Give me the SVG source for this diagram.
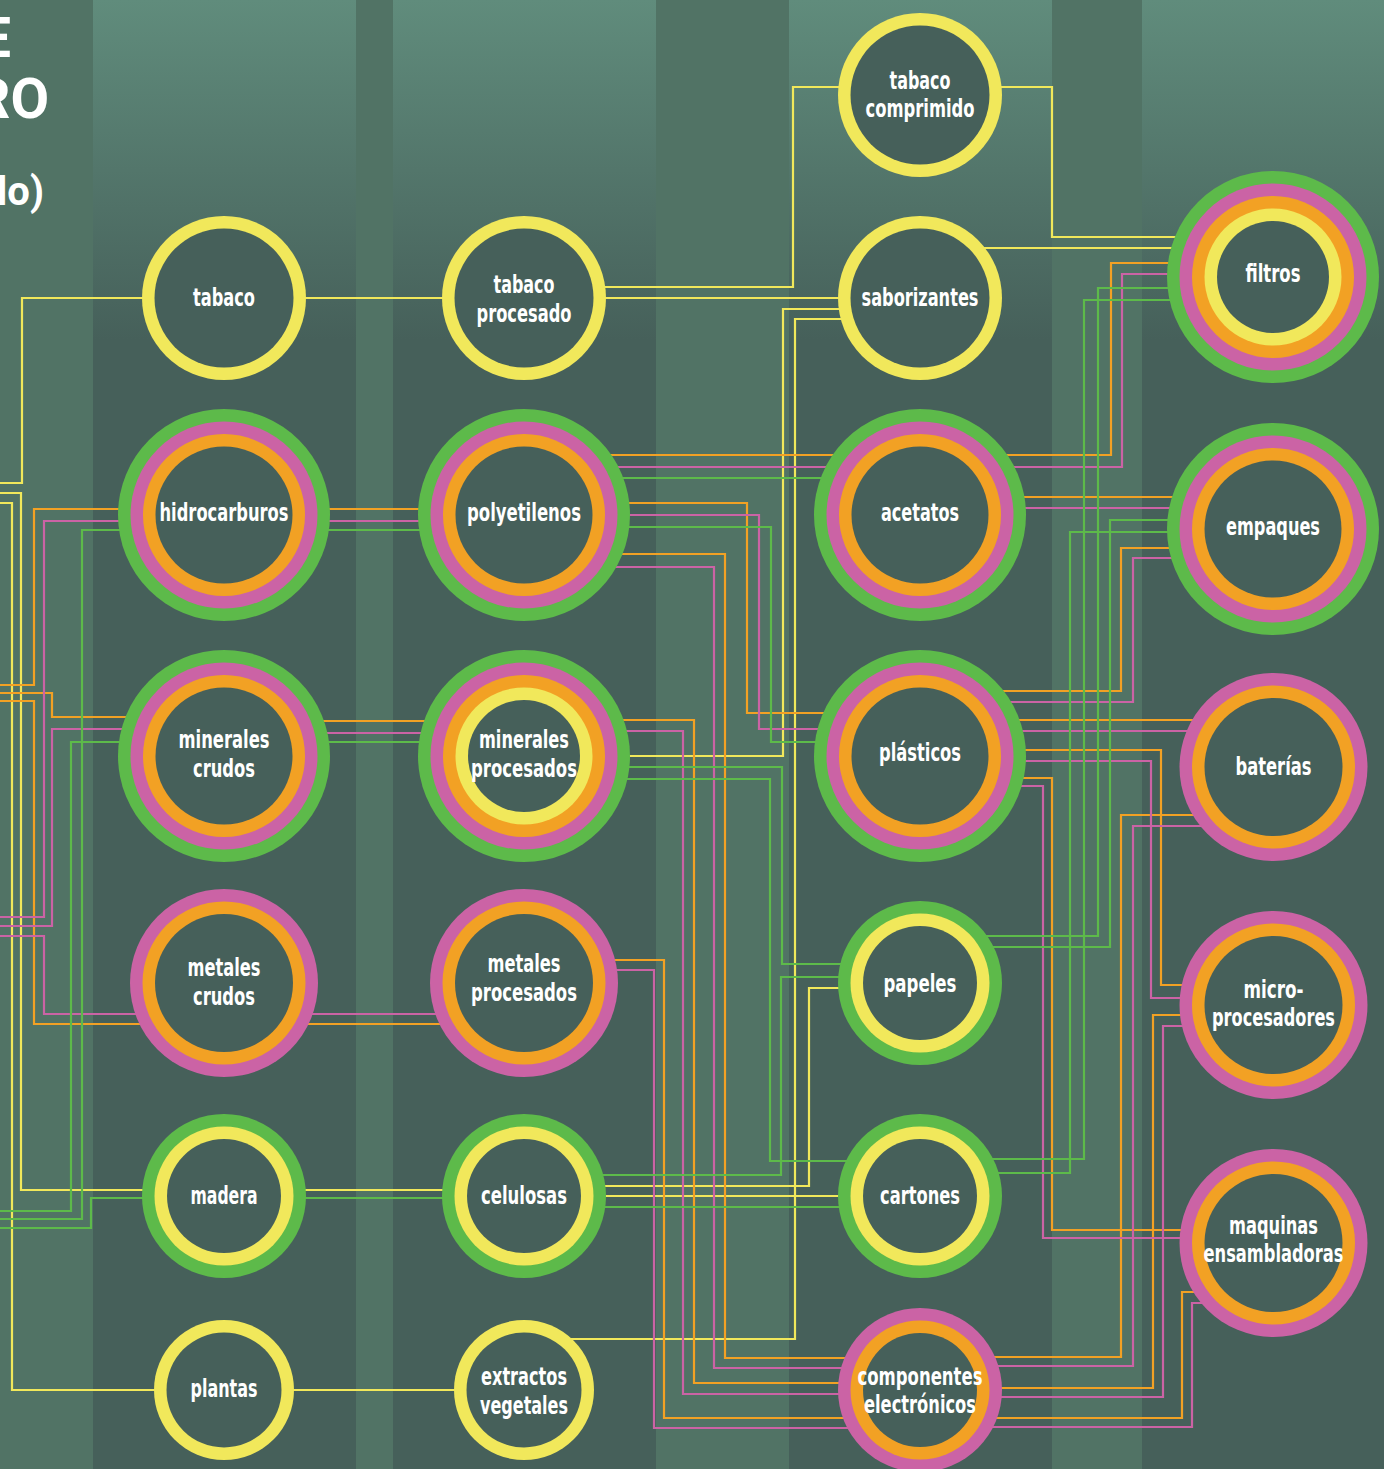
<svg xmlns="http://www.w3.org/2000/svg" width="1384" height="1469" viewBox="0 0 1384 1469">
<style>
.c{fill:none;stroke-width:2.2}
.y{stroke:#f1e85b}.o{stroke:#f2a124}.p{stroke:#cb63a5}.g{stroke:#5dba4a}
.fy{fill:#f1e85b}.fo{fill:#f2a124}.fp{fill:#cb63a5}.fg{fill:#5dba4a}.fd{fill:#46605a}
.lbl{font-family:"Liberation Sans Narrow","DejaVu Sans Condensed","Liberation Sans",sans-serif;font-weight:700;font-size:25px;fill:#ffffff;text-anchor:middle}
.ttl{font-family:Roboto,"Open Sans","Noto Sans",sans-serif;font-weight:700;fill:#ffffff;text-anchor:end}
</style>
<defs>
<linearGradient id="top" x1="0" y1="0" x2="0" y2="340" gradientUnits="userSpaceOnUse">
<stop offset="0" stop-color="#608c7c"/><stop offset="1" stop-color="#46605a"/>
</linearGradient>
</defs>
<g id="background">
<rect width="1384" height="1469" fill="#46605a"/>
<rect x="93" y="0" width="263" height="1469" fill="url(#top)"/>
<rect x="393" y="0" width="263" height="1469" fill="url(#top)"/>
<rect x="789" y="0" width="263" height="1469" fill="url(#top)"/>
<rect x="1142" y="0" width="242" height="1469" fill="url(#top)"/>
<rect x="0" y="0" width="93" height="1469" fill="#517365"/>
<rect x="356" y="0" width="37" height="1469" fill="#517365"/>
<rect x="656" y="0" width="133" height="1469" fill="#517365"/>
<rect x="1052" y="0" width="90" height="1469" fill="#517365"/>
</g>
<g id="title">
<text class="ttl" x="11" y="57" font-size="56">E</text>
<text class="ttl" x="49" y="118" font-size="56">RO</text>
<text class="ttl" x="44" y="205" font-size="40">lo)</text>
</g>
<g id="connectors">
<path class="c y" d="M0,483H22V298H224"/>
<path class="c y" d="M0,493H21V1190H524"/>
<path class="c y" d="M0,503H12V1390H224"/>
<path class="c y" d="M224,298H524"/>
<path class="c y" d="M224,1390H524"/>
<path class="c y" d="M524,287H793V87H920"/>
<path class="c y" d="M524,298H920"/>
<path class="c y" d="M920,87H1052V237H1273"/>
<path class="c y" d="M920,248H1273"/>
<path class="c y" d="M920,309H783V756H524"/>
<path class="c y" d="M920,319H795V1339H524"/>
<path class="c y" d="M920,988H809V1186H524"/>
<path class="c y" d="M524,1196H920"/>

<path class="c o" d="M0,685H34V509H524"/>
<path class="c o" d="M0,701H34V1024H524"/>
<path class="c o" d="M0,693H52V717H224"/>
<path class="c o" d="M224,721H524"/>
<path class="c o" d="M524,455H1111V263H1273"/>
<path class="c o" d="M524,503H747V713H920"/>
<path class="c o" d="M524,554H725V1358H920"/>
<path class="c o" d="M524,720H694V1383H920"/>
<path class="c o" d="M524,960H664V1418H920"/>
<path class="c o" d="M920,497H1273"/>
<path class="c o" d="M920,691H1121V548H1273"/>
<path class="c o" d="M920,720H1273"/>
<path class="c o" d="M920,750H1161V985H1273"/>
<path class="c o" d="M920,778H1052V1230H1273"/>
<path class="c o" d="M920,1357H1121V815H1273"/>
<path class="c o" d="M920,1388H1153V1015H1273"/>
<path class="c o" d="M920,1418H1182V1292H1273"/>

<path class="c p" d="M0,917H44V521H524"/>
<path class="c p" d="M0,926H52V729H224"/>
<path class="c p" d="M224,733H524"/>
<path class="c p" d="M0,936H44V1014H524"/>
<path class="c p" d="M524,467H1122V274H1273"/>
<path class="c p" d="M524,515H759V729H920"/>
<path class="c p" d="M524,567H714V1368H920"/>
<path class="c p" d="M524,731H683V1394H920"/>
<path class="c p" d="M524,970H654V1428H920"/>
<path class="c p" d="M920,508H1273"/>
<path class="c p" d="M920,702H1133V558H1273"/>
<path class="c p" d="M920,731H1273"/>
<path class="c p" d="M920,761H1151V998H1273"/>
<path class="c p" d="M920,786H1043V1238H1273"/>
<path class="c p" d="M920,1366H1133V826H1273"/>
<path class="c p" d="M920,1397H1163V1026H1273"/>
<path class="c p" d="M920,1427H1192V1303H1273"/>

<path class="c g" d="M0,1219H82V530H524"/>
<path class="c g" d="M0,1211H71V742H524"/>
<path class="c g" d="M0,1228H91V1198H524"/>
<path class="c g" d="M524,478H920"/>
<path class="c g" d="M524,527H771V742H920"/>
<path class="c g" d="M524,767H782V964H920"/>
<path class="c g" d="M524,779H770V1161H920"/>
<path class="c g" d="M920,977H781V1175H524"/>
<path class="c g" d="M524,1207H920"/>
<path class="c g" d="M1273,288H1098V936H920"/>
<path class="c g" d="M1273,300H1084V1159H920"/>
<path class="c g" d="M1273,520H1110V947H920"/>
<path class="c g" d="M1273,532H1070V1173H920"/>
</g>

<g id="tabaco"><circle cx="224" cy="298" r="82" class="fy"/><circle cx="224" cy="298" r="69.5" class="fd"/>
<text class="lbl" x="224" y="306" textLength="62" lengthAdjust="spacingAndGlyphs">tabaco</text></g>
<g id="tabaco-procesado"><circle cx="524" cy="298" r="82" class="fy"/><circle cx="524" cy="298" r="69.5" class="fd"/>
<text class="lbl" x="524" y="293" textLength="61" lengthAdjust="spacingAndGlyphs">tabaco</text>
<text class="lbl" x="524" y="322" textLength="95" lengthAdjust="spacingAndGlyphs">procesado</text></g>
<g id="tabaco-comprimido"><circle cx="920" cy="95" r="82" class="fy"/><circle cx="920" cy="95" r="69.5" class="fd"/>
<text class="lbl" x="920" y="89" textLength="61" lengthAdjust="spacingAndGlyphs">tabaco</text>
<text class="lbl" x="920" y="117" textLength="109" lengthAdjust="spacingAndGlyphs">comprimido</text></g>
<g id="saborizantes"><circle cx="920" cy="298" r="82" class="fy"/><circle cx="920" cy="298" r="69.5" class="fd"/>
<text class="lbl" x="920" y="306" textLength="117" lengthAdjust="spacingAndGlyphs">saborizantes</text></g>
<g id="filtros"><circle cx="1273" cy="277" r="106" class="fg"/><circle cx="1273" cy="277" r="93.5" class="fp"/><circle cx="1273" cy="277" r="81" class="fo"/><circle cx="1273" cy="277" r="68.5" class="fy"/><circle cx="1273" cy="277" r="56" class="fd"/>
<text class="lbl" x="1273" y="282" textLength="55" lengthAdjust="spacingAndGlyphs">filtros</text></g>

<g id="hidrocarburos"><circle cx="224" cy="515" r="106" class="fg"/><circle cx="224" cy="515" r="93.5" class="fp"/><circle cx="224" cy="515" r="81" class="fo"/><circle cx="224" cy="515" r="68.5" class="fd"/>
<text class="lbl" x="224" y="521" textLength="129" lengthAdjust="spacingAndGlyphs">hidrocarburos</text></g>
<g id="polyetilenos"><circle cx="524" cy="515" r="106" class="fg"/><circle cx="524" cy="515" r="93.5" class="fp"/><circle cx="524" cy="515" r="81" class="fo"/><circle cx="524" cy="515" r="68.5" class="fd"/>
<text class="lbl" x="524" y="521" textLength="114" lengthAdjust="spacingAndGlyphs">polyetilenos</text></g>
<g id="acetatos"><circle cx="920" cy="515" r="106" class="fg"/><circle cx="920" cy="515" r="93.5" class="fp"/><circle cx="920" cy="515" r="81" class="fo"/><circle cx="920" cy="515" r="68.5" class="fd"/>
<text class="lbl" x="920" y="521" textLength="78" lengthAdjust="spacingAndGlyphs">acetatos</text></g>
<g id="empaques"><circle cx="1273" cy="529" r="106" class="fg"/><circle cx="1273" cy="529" r="93.5" class="fp"/><circle cx="1273" cy="529" r="81" class="fo"/><circle cx="1273" cy="529" r="68.5" class="fd"/>
<text class="lbl" x="1273" y="535" textLength="94" lengthAdjust="spacingAndGlyphs">empaques</text></g>

<g id="minerales-crudos"><circle cx="224" cy="756" r="106" class="fg"/><circle cx="224" cy="756" r="93.5" class="fp"/><circle cx="224" cy="756" r="81" class="fo"/><circle cx="224" cy="756" r="68.5" class="fd"/>
<text class="lbl" x="224" y="748" textLength="91" lengthAdjust="spacingAndGlyphs">minerales</text>
<text class="lbl" x="224" y="777" textLength="62" lengthAdjust="spacingAndGlyphs">crudos</text></g>
<g id="minerales-procesados"><circle cx="524" cy="756" r="106" class="fg"/><circle cx="524" cy="756" r="93.5" class="fp"/><circle cx="524" cy="756" r="81" class="fo"/><circle cx="524" cy="756" r="68.5" class="fy"/><circle cx="524" cy="756" r="56" class="fd"/>
<text class="lbl" x="524" y="748" textLength="90" lengthAdjust="spacingAndGlyphs">minerales</text>
<text class="lbl" x="524" y="777" textLength="106" lengthAdjust="spacingAndGlyphs">procesados</text></g>
<g id="plasticos"><circle cx="920" cy="756" r="106" class="fg"/><circle cx="920" cy="756" r="93.5" class="fp"/><circle cx="920" cy="756" r="81" class="fo"/><circle cx="920" cy="756" r="68.5" class="fd"/>
<text class="lbl" x="920" y="761" textLength="82" lengthAdjust="spacingAndGlyphs">plásticos</text></g>
<g id="baterias"><circle cx="1273.5" cy="767" r="94" class="fp"/><circle cx="1273.5" cy="767" r="81.5" class="fo"/><circle cx="1273.5" cy="767" r="69" class="fd"/>
<text class="lbl" x="1273.5" y="775" textLength="76" lengthAdjust="spacingAndGlyphs">baterías</text></g>

<g id="metales-crudos"><circle cx="224" cy="983" r="94" class="fp"/><circle cx="224" cy="983" r="81.5" class="fo"/><circle cx="224" cy="983" r="69" class="fd"/>
<text class="lbl" x="224" y="976" textLength="73" lengthAdjust="spacingAndGlyphs">metales</text>
<text class="lbl" x="224" y="1005" textLength="62" lengthAdjust="spacingAndGlyphs">crudos</text></g>
<g id="metales-procesados"><circle cx="524" cy="983" r="94" class="fp"/><circle cx="524" cy="983" r="81.5" class="fo"/><circle cx="524" cy="983" r="69" class="fd"/>
<text class="lbl" x="524" y="972" textLength="73" lengthAdjust="spacingAndGlyphs">metales</text>
<text class="lbl" x="524" y="1001" textLength="106" lengthAdjust="spacingAndGlyphs">procesados</text></g>
<g id="papeles"><circle cx="920" cy="983" r="82" class="fg"/><circle cx="920" cy="983" r="69.5" class="fy"/><circle cx="920" cy="983" r="57" class="fd"/>
<text class="lbl" x="920" y="992" textLength="73" lengthAdjust="spacingAndGlyphs">papeles</text></g>
<g id="micro-procesadores"><circle cx="1273.5" cy="1005" r="94" class="fp"/><circle cx="1273.5" cy="1005" r="81.5" class="fo"/><circle cx="1273.5" cy="1005" r="69" class="fd"/>
<text class="lbl" x="1273.5" y="998" textLength="60" lengthAdjust="spacingAndGlyphs">micro-</text>
<text class="lbl" x="1273.5" y="1026" textLength="123" lengthAdjust="spacingAndGlyphs">procesadores</text></g>

<g id="madera"><circle cx="224" cy="1196" r="82" class="fg"/><circle cx="224" cy="1196" r="69.5" class="fy"/><circle cx="224" cy="1196" r="57" class="fd"/>
<text class="lbl" x="224" y="1204" textLength="67" lengthAdjust="spacingAndGlyphs">madera</text></g>
<g id="celulosas"><circle cx="524" cy="1196" r="82" class="fg"/><circle cx="524" cy="1196" r="69.5" class="fy"/><circle cx="524" cy="1196" r="57" class="fd"/>
<text class="lbl" x="524" y="1204" textLength="86" lengthAdjust="spacingAndGlyphs">celulosas</text></g>
<g id="cartones"><circle cx="920" cy="1196" r="82" class="fg"/><circle cx="920" cy="1196" r="69.5" class="fy"/><circle cx="920" cy="1196" r="57" class="fd"/>
<text class="lbl" x="920" y="1204" textLength="80" lengthAdjust="spacingAndGlyphs">cartones</text></g>
<g id="maquinas-ensambladoras"><circle cx="1273.5" cy="1243" r="94" class="fp"/><circle cx="1273.5" cy="1243" r="81.5" class="fo"/><circle cx="1273.5" cy="1243" r="69" class="fd"/>
<text class="lbl" x="1273.5" y="1234" textLength="89" lengthAdjust="spacingAndGlyphs">maquinas</text>
<text class="lbl" x="1273.5" y="1262" textLength="140" lengthAdjust="spacingAndGlyphs">ensambladoras</text></g>

<g id="plantas"><circle cx="224" cy="1390" r="70" class="fy"/><circle cx="224" cy="1390" r="57.5" class="fd"/>
<text class="lbl" x="224" y="1397" textLength="67" lengthAdjust="spacingAndGlyphs">plantas</text></g>
<g id="extractos-vegetales"><circle cx="524" cy="1390" r="70" class="fy"/><circle cx="524" cy="1390" r="57.5" class="fd"/>
<text class="lbl" x="524" y="1385" textLength="86" lengthAdjust="spacingAndGlyphs">extractos</text>
<text class="lbl" x="524" y="1414" textLength="88" lengthAdjust="spacingAndGlyphs">vegetales</text></g>
<g id="componentes-electronicos"><circle cx="920" cy="1390" r="82" class="fp"/><circle cx="920" cy="1390" r="69.5" class="fo"/><circle cx="920" cy="1390" r="57" class="fd"/>
<text class="lbl" x="920" y="1385" textLength="125" lengthAdjust="spacingAndGlyphs">componentes</text>
<text class="lbl" x="920" y="1413" textLength="112" lengthAdjust="spacingAndGlyphs">electrónicos</text></g>
</svg>
